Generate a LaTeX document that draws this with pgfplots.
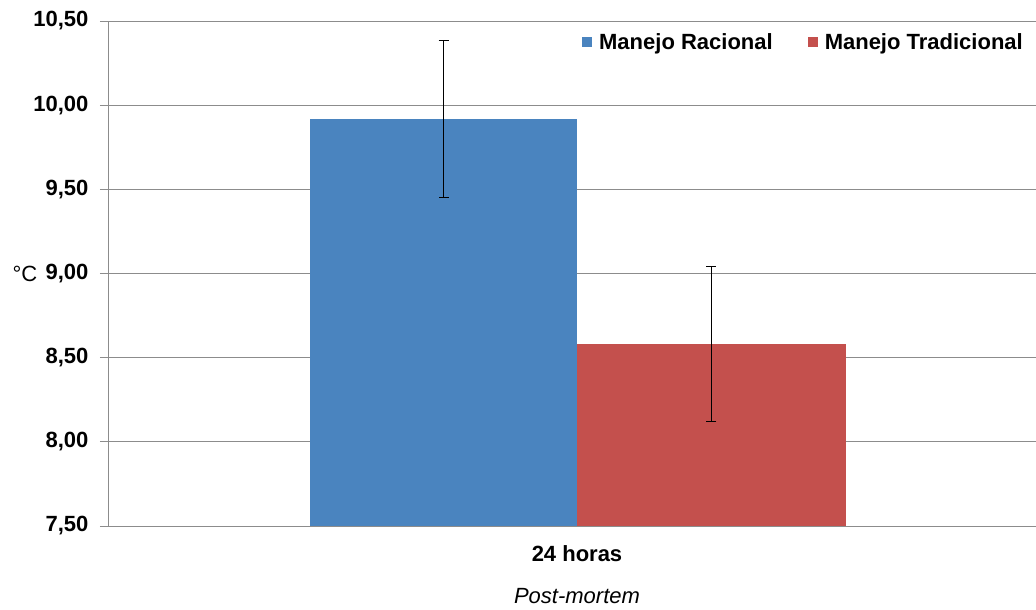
\documentclass[border=0pt]{standalone}
\usepackage{fontspec}
\setmainfont{Liberation Sans}
\usepackage{pgfplots}
\pgfplotsset{compat=1.18}
\definecolor{mrblue}{HTML}{4A84BF}
\definecolor{mtred}{HTML}{C4504D}
\definecolor{gridgray}{HTML}{8C8C8C}
\begin{document}
\begin{tikzpicture}
\begin{axis}[
    scale only axis,
    width=938pt, height=505pt,
    xmin=-0.5, xmax=0.5,
    ymin=7.5, ymax=10.5,
    ytick={7.5,8,8.5,9,9.5,10,10.5},
    xtick={0}, xticklabels={24 horas},
    x tick style={draw=none},
    extra x ticks={-0.5}, extra x tick labels={},
    extra x tick style={tick style={draw=gridgray}, major tick length=8pt},
    axis x line=bottom, axis y line=left,
    x axis line style={-}, y axis line style={-},
    axis line style={gridgray, line width=0.8pt},
    tick align=outside, major tick length=8pt,
    y tick style={gridgray, line width=0.8pt},
    ymajorgrids, grid style={gridgray, line width=0.8pt},
    tick label style={font=\fontsize{22}{26}\selectfont\bfseries},
    /pgf/number format/.cd, fixed, fixed zerofill, precision=2, use comma, assume math mode=true,
    /pgfplots/.cd,
    yticklabel style={xshift=-8pt},
    xticklabel style={yshift=-8pt},
    every axis y label/.style={at={(axis description cs:-0.0885,0.5)}, anchor=center},
    ylabel={\fontsize{22}{26}\selectfont °C},
    every axis x label/.style={at={(axis description cs:0.5,0)}, anchor=center, yshift=-70pt},
    xlabel={\fontsize{22}{26}\selectfont\itshape Post-mortem},
    legend columns=2,
    legend style={at={(axis description cs:0.9776,0.958)}, anchor=east, draw=none, fill=none,
        inner sep=0pt, font=\fontsize{22}{26}\selectfont\bfseries,
        /tikz/every even column/.append style={column sep=33pt}},
    legend image code/.code={\fill[#1] (0pt,-5pt) rectangle (10pt,5pt); \path (15pt,0pt);},
    legend cell align=left,
]
\addplot[ybar, bar width=0.2846, bar shift=0, fill=mrblue, draw=none,
    error bars/.cd, y dir=both, y explicit,
    error bar style={black, line width=0.8pt},
    error mark options={rotate=90, mark size=5pt, black, line width=0.8pt}]
    coordinates {(-0.1423,9.92) +- (0,0.467)};
\addplot[ybar, bar width=0.2867, bar shift=0, fill=mtred, draw=none,
    error bars/.cd, y dir=both, y explicit,
    error bar style={black, line width=0.8pt},
    error mark options={rotate=90, mark size=5pt, black, line width=0.8pt}]
    coordinates {(0.1433,8.58) +- (0,0.46)};
\legend{Manejo Racional, Manejo Tradicional}
\end{axis}
\pgfresetboundingbox
\path[use as bounding box] (current axis.south west) ++(-108pt,-84pt) rectangle ++(1036pt,610pt);
\end{tikzpicture}
\end{document}
